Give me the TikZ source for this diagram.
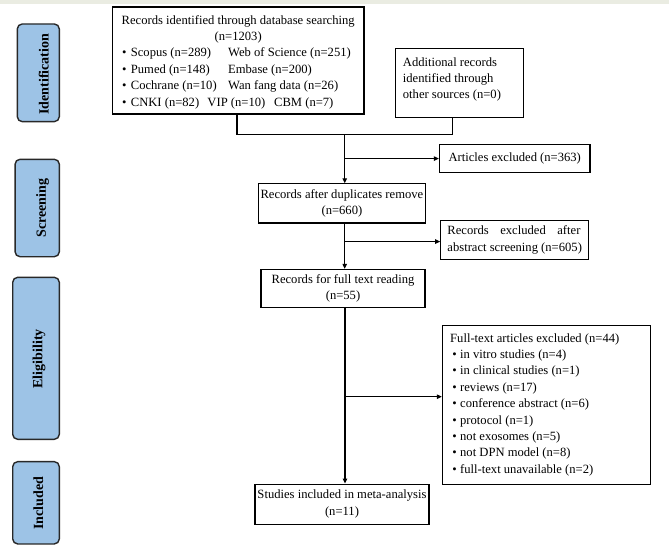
\documentclass[tikz,border=0pt]{standalone}
\usepackage{fontspec}
\setmainfont{Liberation Serif}
\usetikzlibrary{arrows.meta}
\definecolor{phase}{RGB}{157,195,230}
\definecolor{phaseline}{RGB}{40,40,40}
\definecolor{band}{RGB}{234,236,226}
\tikzset{
  box/.style={draw=black, line width=1.1pt, rectangle, inner sep=0pt,
    font=\fontsize{12.6}{16.6}\selectfont, align=center},
  phasebox/.style={draw=phaseline, fill=phase, line width=1.4pt,
    rounded corners=5pt, rectangle, inner sep=0pt},
  phaselbl/.style={rotate=90, font=\fontsize{14}{16}\selectfont\bfseries, inner sep=0pt},
  txt/.style={inner sep=0pt, anchor=base west, font=\fontsize{12.6}{16.4}\selectfont},
  link/.style={line width=1.1pt, draw=black},
  arr/.style={link, -{Triangle[length=5pt,width=4.5pt]}},
}
\begin{document}
\begin{tikzpicture}[x=1pt,y=-1pt]
\fill[white] (0,0) rectangle (669,549);
\useasboundingbox (0,0) rectangle (669,549);
\fill[band] (0,0) rectangle (669,3.5);

% phase labels
\node[phasebox, minimum width=42pt, minimum height=97.7pt] (pid) at (38.3,72.8) {};
\node[phaselbl] (lid) at (43.8,74.2) {Identification};
\node[phasebox, minimum width=44.3pt, minimum height=97.4pt] (pscr) at (37.2,208) {};
\node[phaselbl] (lscr) at (42.5,208) {Screening};
\node[phasebox, minimum width=46.6pt, minimum height=162pt] (pel) at (36,358.3) {};
\node[phaselbl] (lel) at (39,358.8) {Eligibility};
\node[phasebox, minimum width=46.6pt, minimum height=82.3pt] (pinc) at (36,502.8) {};
\node[phaselbl] (linc) at (38.3,503.3) {Included};

% database box
\node[box, minimum width=251.7pt, minimum height=107pt] (db) at (238.1,60.5) {};
\node[txt] (dbtxt) at (118,24) {\parbox[t]{240pt}{\centering
Records identified through database searching\\(n=1203)\par
\raggedright
\hspace*{4pt}\makebox[8.7pt][l]{\textbullet}\makebox[97.3pt][l]{Scopus (n=289)}Web of Science (n=251)\\
\hspace*{4pt}\makebox[8.7pt][l]{\textbullet}\makebox[97.3pt][l]{Pumed (n=148)}Embase (n=200)\\
\hspace*{4pt}\makebox[8.7pt][l]{\textbullet}\makebox[97.3pt][l]{Cochrane (n=10)}Wan fang data (n=26)\\
\hspace*{4pt}\makebox[8.7pt][l]{\textbullet}\makebox[76.6pt][l]{CNKI (n=82)}\makebox[66.7pt][l]{VIP (n=10)}CBM (n=7)}};

% additional records
\node[box, minimum width=128.3pt, minimum height=69pt] (add) at (459.2,82.8) {};
\node[txt] (addtxt) at (402.7,66) {\parbox[t]{118pt}{Additional records\\identified through\\other sources (n=0)}};

% other boxes
\node[box, minimum width=150.6pt, minimum height=28pt] (ex1) at (514.7,158.6) {Articles excluded (n=363)};
\node[box, minimum width=166.8pt, minimum height=39.2pt] (dup) at (341.9,203.4) {Records after duplicates remove\\(n=660)};
\node[box, minimum width=148pt, minimum height=38.9pt, align=left] (ex2) at (514.7,240) {\makebox[133pt][s]{Records excluded after}\\abstract screening (n=605)};
\node[box, minimum width=164pt, minimum height=38.1pt] (full) at (343,288.4) {Records for full text reading\\(n=55)};
\node[box, minimum width=207.7pt, minimum height=159pt] (ex3) at (546.2,404.8) {};
\node[txt] (ex3txt) at (450,342) {\parbox[t]{195pt}{Full-text articles excluded (n=44)\\
\hspace*{2.2pt}\makebox[7.8pt][l]{\textbullet}in vitro studies (n=4)\\
\hspace*{2.2pt}\makebox[7.8pt][l]{\textbullet}in clinical studies (n=1)\\
\hspace*{2.2pt}\makebox[7.8pt][l]{\textbullet}reviews (n=17)\\
\hspace*{2.2pt}\makebox[7.8pt][l]{\textbullet}conference abstract (n=6)\\
\hspace*{2.2pt}\makebox[7.8pt][l]{\textbullet}protocol (n=1)\\
\hspace*{2.2pt}\makebox[7.8pt][l]{\textbullet}not exosomes (n=5)\\
\hspace*{2.2pt}\makebox[7.8pt][l]{\textbullet}not DPN model (n=8)\\
\hspace*{2.2pt}\makebox[7.8pt][l]{\textbullet}full-text unavailable (n=2)}};
\node[box, minimum width=174pt, minimum height=40.3pt] (stud) at (342,504.2) {Studies included in meta-analysis\\(n=11)};

% connectors
\coordinate (jl) at (237,134.5);
\coordinate (jr) at (452.7,134.5);
\coordinate (jm) at (344.7,134.5);
\draw[link] (db.south -| jl) -- (jl) -- (jr) -- (add.south -| jr);
\draw[arr] (jm) -- (dup.north -| jm);
\coordinate (b1) at (344.7,158.6);
\draw[arr] (b1) -- (ex1.west);
\draw[arr] (dup.south -| jm) -- (full.north -| jm);
\coordinate (b2) at (344.7,241.6);
\draw[arr] (b2) -- (b2 -| ex2.west);
\coordinate (km) at (345,400);
\draw[arr] (full.south -| km) -- (stud.north -| km);
\coordinate (b3) at (346,396.7);
\draw[arr] (b3) -- (b3 -| ex3.west);
\end{tikzpicture}
\end{document}
